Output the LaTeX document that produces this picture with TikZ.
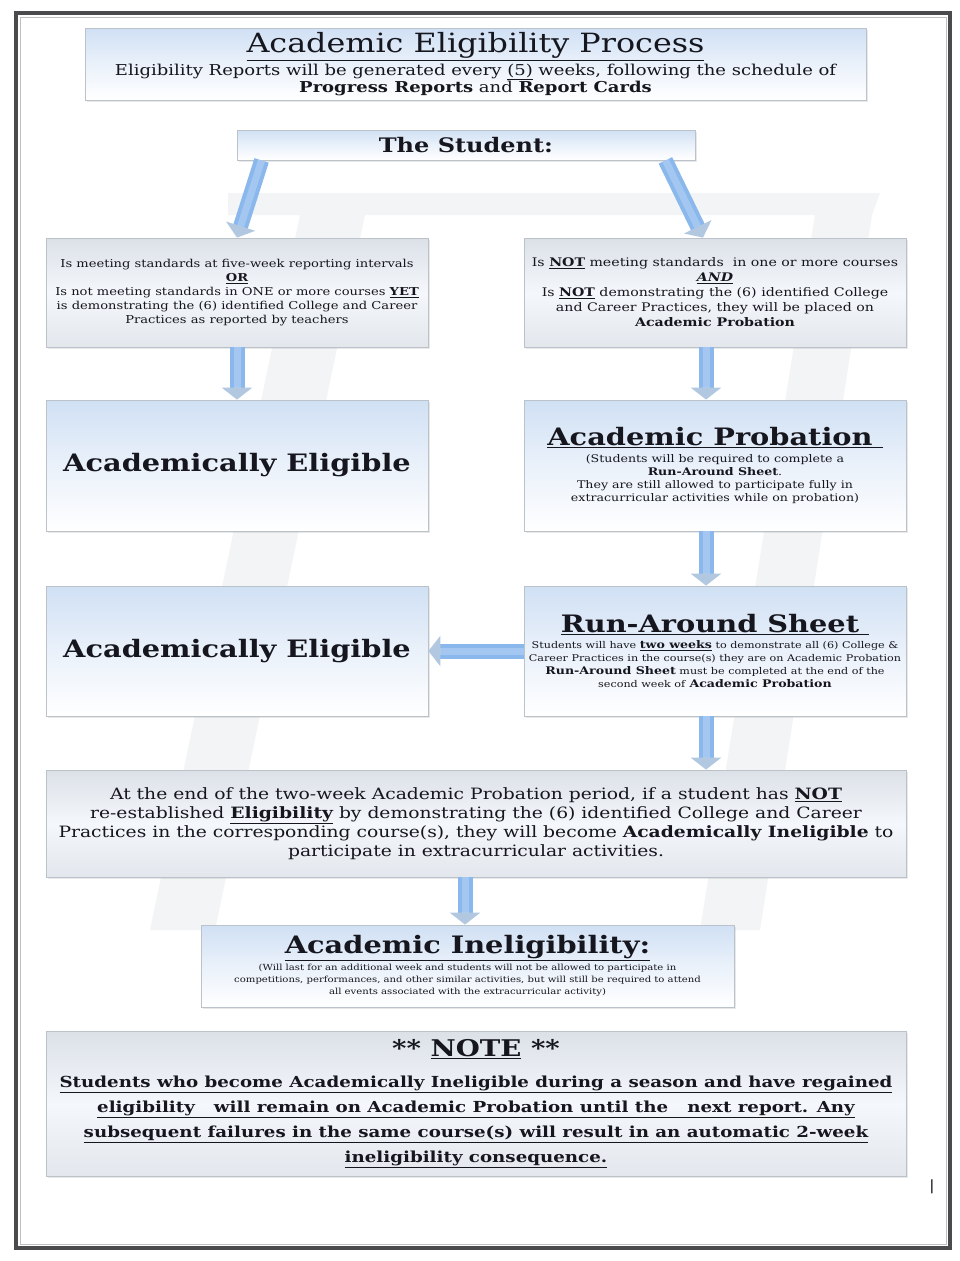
\documentclass[tikz,border=0pt]{standalone}
\usepackage{fontspec}
\setmainfont[FakeStretch=1.2]{DejaVu Serif}
\usetikzlibrary{arrows.meta,shadows}
\definecolor{framecol}{RGB}{75,75,78}
\definecolor{bluetop}{RGB}{208,224,244}
\definecolor{graytop}{RGB}{220,225,232}
\definecolor{graymid}{RGB}{244,247,251}
\definecolor{boxline}{RGB}{188,194,202}
\definecolor{arrowblue}{RGB}{138,184,236}
\definecolor{arrowhead}{RGB}{178,200,224}
\definecolor{wmark}{RGB}{243,244,246}
\definecolor{txt}{RGB}{22,22,30}
\newcommand{\fs}[2]{\fontsize{#1}{#2}\selectfont}
\tikzset{
  box/.style={draw=boxline, line width=0.8pt, align=center, inner sep=2pt, text=txt,
    drop shadow={opacity=0.18, shadow xshift=1.5pt, shadow yshift=-1.5pt}},
  bluebox/.style={box, top color=bluetop, bottom color=white, middle color=white!55!bluetop},
  graybox/.style={box, top color=graytop, bottom color=graytop!80!white, middle color=graymid},
  flow/.style={line width=15pt, draw=arrowblue, -{Triangle[width=30pt,length=12pt,color=arrowhead]},
    postaction={draw=white, draw opacity=0.22, line width=7pt, -, shorten >=12pt}},
  wm/.style={fill=wmark, draw=none},
}
\begin{document}
\begin{tikzpicture}[x=1pt,y=-1pt]
\useasboundingbox (0,0) rectangle (960,1261);
\fill[white] (0,0) rectangle (960,1261);
% page frame
\draw[line width=4pt, draw=framecol] (16,13) rectangle (950,1248);
\draw[line width=1pt, draw=gray!50] (20,17) rectangle (946,1244);
% faint watermark
\fill[wm] (228,193) -- (880,193) -- (872,215) -- (228,215) -- cycle;
\fill[wm] (300,215) -- (365,215) -- (215,930) -- (150,930) -- cycle;
\fill[wm] (815,215) -- (872,215) -- (760,930) -- (700,930) -- cycle;

% nodes
\node[bluebox, minimum width=781pt, minimum height=72pt, font=\fs{15}{17}] (title) at (475.5,64)
 {{\fs{26.5}{30}\underline{Academic Eligibility Process}}\\[2pt]
  Eligibility Reports will be generated every \underline{(5)} weeks, following the schedule of\\
  \textbf{Progress Reports} and \textbf{Report Cards}};

\node[bluebox, minimum width=458pt, minimum height=30pt, font=\fs{20}{24}\bfseries] (student) at (466,145) {The Student:};

\node[graybox, minimum width=382pt, minimum height=109pt, font=\fs{10.9}{14}] (left1) at (237,292.5)
 {Is meeting standards at five-week reporting intervals\\
  \textbf{\underline{OR}}\\
  Is not meeting standards in ONE or more courses \textbf{\underline{YET}}\\
  is demonstrating the (6) identified College and Career\\
  Practices as reported by teachers};

\node[graybox, minimum width=382pt, minimum height=109pt, font=\fs{11.8}{15}] (right1) at (715,292.5)
 {Is \textbf{\underline{NOT}} meeting standards\ \ in one or more courses\\
  \textbf{\textit{\underline{AND}}}\\
  Is \textbf{\underline{NOT}} demonstrating the (6) identified College\\
  and Career Practices, they will be placed on\\
  \textbf{Academic Probation}};

\node[bluebox, minimum width=382pt, minimum height=131pt, font=\fs{24}{28}\bfseries] (elig1) at (237,465.5) {Academically Eligible};

\node[bluebox, minimum width=382pt, minimum height=131pt, font=\fs{10.5}{12.8}] (prob) at (715,465.5)
 {{\fs{24}{28}\bfseries\underline{Academic Probation\ }}\\[4pt]
  (Students will be required to complete a\\
  \textbf{Run-Around Sheet}.\\
  They are still allowed to participate fully in\\
  extracurricular activities while on probation)};

\node[bluebox, minimum width=382pt, minimum height=130pt, font=\fs{9.3}{13}] (run) at (715,651)
 {{\fs{24}{28}\bfseries\underline{Run-Around Sheet\ }}\\[3pt]
  Students will have {\fs{10.5}{13}\textbf{\underline{two weeks}}} to demonstrate all (6) College \&\\
  Career Practices in the course(s) they are on Academic Probation\\
  {\fs{10.5}{13}\textbf{Run-Around Sheet}} must be completed at the end of the\\
  second week of {\fs{10.5}{13}\textbf{Academic Probation}}};

\node[bluebox, minimum width=382pt, minimum height=130pt, font=\fs{24}{28}\bfseries] (elig2) at (237,651) {Academically Eligible};

\node[graybox, minimum width=860pt, minimum height=107pt, font=\fs{15.6}{19}] (atend) at (476,823.5)
 {At the end of the two-week Academic Probation period, if a student has \textbf{\underline{NOT}}\\
  re-established \textbf{\underline{Eligibility}} by demonstrating the (6) identified College and Career\\
  Practices in the corresponding course(s), they will become \textbf{Academically Ineligible} to\\
  participate in extracurricular activities.};

\node[bluebox, minimum width=533pt, minimum height=82pt, font=\fs{8.4}{12}] (inel) at (467.5,966)
 {{\fs{24}{28}\bfseries\underline{Academic Ineligibility:}}\\[2pt]
  (Will last for an additional week and students will not be allowed to participate in\\
  competitions, performances, and other similar activities, but will still be required to attend\\
  all events associated with the extracurricular activity)};

\node[graybox, minimum width=860pt, minimum height=145pt, font=\fs{15.2}{25}\bfseries] (note) at (476,1104)
 {{\fs{23}{26}** \underline{NOTE} **}\\[6pt]
  \underline{Students who become Academically Ineligible during a season and have regained}\\
  \underline{eligibility\ \ \ will remain on Academic Probation until the\ \ \ next report. Any}\\
  \underline{subsequent failures in the same course(s) will result in an automatic 2-week}\\
  \underline{ineligibility consequence.}};

\node[font=\fs{14}{16}, text=txt] (mark) at (932,1187) {|};

% connectors
\draw[flow] ([xshift=25pt]student.south west) -- (left1.north);
\draw[flow] ([xshift=-30pt]student.south east) -- ([xshift=-12pt]right1.north);
\draw[flow] (left1.south) -- (elig1.north);
\draw[flow] ([xshift=-9pt]right1.south) -- ([xshift=-9pt]prob.north);
\draw[flow] ([xshift=-9pt]prob.south) -- ([xshift=-9pt]run.north);
\draw[flow] (run.west) -- (elig2.east);
\draw[flow] ([xshift=-9pt]run.south) -- ([xshift=-9pt]run.south |- atend.north);
\draw[flow] ([xshift=-11pt]atend.south) -- ([xshift=-11pt]atend.south |- inel.north);
\end{tikzpicture}
\end{document}
